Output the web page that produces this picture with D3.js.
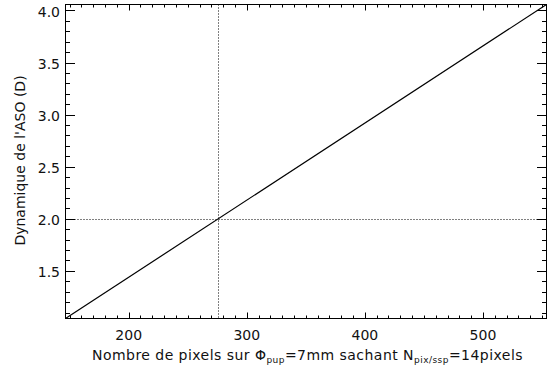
<!DOCTYPE html>
<html><head><meta charset="utf-8">
<script src="https://cdn.jsdelivr.net/npm/d3@7"></script>
<style>body{margin:0;background:#fff}svg{display:block}text{font-family:"DejaVu Sans",sans-serif;fill:#111}</style>
</head><body><svg id="c" width="547" height="371"></svg>
<script>
// data
const lineX = [146.5, 553.8];
const lineY = [1.043, 4.057];
const refX = [276];
const refY = [2.0];
const xTicks = [200, 300, 400, 500];
const yTicks = [1.5, 2.0, 2.5, 3.0, 3.5, 4.0];
const xDomain = [146.5, 553.8];
const yDomain = [1.043, 4.057];

const svg = d3.select("#c");
const L = 65.5, R = 546.5, T = 4.5, B = 318.5;
const x = d3.scaleLinear().domain(xDomain).range([L, R]);
const y = d3.scaleLinear().domain(yDomain).range([B, T]);

const g = svg.append("g");
g.append("rect").attr("x", L).attr("y", T).attr("width", R - L).attr("height", B - T)
  .attr("fill", "none").attr("stroke", "#000").attr("stroke-width", 1);

const xMinor = d3.range(150, 554, 10);
const yMinor = d3.range(11, 41, 1).map(v => v / 10);
const xMaj = 6, xMin = 3, yMaj = 9.5, yMin = 4.5;
xMinor.forEach(v => {
  const isMaj = xTicks.includes(v);
  const len = isMaj ? xMaj : xMin;
  const px = Math.round(x(v)) + 0.5;
  g.append("line").attr("x1", px).attr("x2", px).attr("y1", B).attr("y2", B - len).attr("stroke", "#000");
  g.append("line").attr("x1", px).attr("x2", px).attr("y1", T).attr("y2", T + len).attr("stroke", "#000");
});
yMinor.forEach(v => {
  const isMaj = yTicks.some(t => Math.abs(t - v) < 1e-6);
  const len = isMaj ? yMaj : yMin;
  const py = Math.round(y(v)) + 0.5;
  g.append("line").attr("y1", py).attr("y2", py).attr("x1", L).attr("x2", L + len).attr("stroke", "#000");
  g.append("line").attr("y1", py).attr("y2", py).attr("x1", R).attr("x2", R - len).attr("stroke", "#000");
});

xTicks.forEach(v => {
  g.append("text").attr("x", x(v)).attr("y", 340).attr("text-anchor", "middle")
    .attr("font-size", 14).text(v);
});
yTicks.forEach(v => {
  g.append("text").attr("x", 60).attr("y", y(v) + 6.5).attr("text-anchor", "end")
    .attr("font-size", 14).text(d3.format(".1f")(v));
});

refX.forEach(v => {
  g.append("line").attr("x1", Math.round(x(v)) + 0.5).attr("x2", Math.round(x(v)) + 0.5)
    .attr("y1", T).attr("y2", B).attr("stroke", "#000").attr("stroke-dasharray", "1,2");
});
refY.forEach(v => {
  g.append("line").attr("y1", Math.round(y(v)) + 0.5).attr("y2", Math.round(y(v)) + 0.5)
    .attr("x1", L).attr("x2", R).attr("stroke", "#000").attr("stroke-dasharray", "1,2");
});

const pts = lineX.map((d, i) => [x(d), y(lineY[i])]);
g.append("path").attr("d", d3.line()(pts)).attr("fill", "none").attr("stroke", "#000").attr("stroke-width", 1.2);

const xt = g.append("text").attr("x", 92).attr("y", 360).attr("text-anchor", "start").attr("font-size", 14);
xt.append("tspan").text("Nombre de pixels sur Φ");
xt.append("tspan").attr("font-size", 9).attr("dy", 3).text("pup");
xt.append("tspan").attr("dy", -3).text("=7mm sachant N");
xt.append("tspan").attr("font-size", 9).attr("dy", 3).text("pix/ssp");
xt.append("tspan").attr("dy", -3).text("=14pixels");
// stretch spacing to the reference width
const w0 = xt.node().getBBox().width;
const nChars = xt.text().length;
xt.attr("letter-spacing", Math.max(0, (431 - w0) / nChars));

g.append("text").attr("transform", `translate(25,${(72 + 249) / 2}) rotate(-90)`)
  .attr("text-anchor", "middle").attr("font-size", 14).text("Dynamique de l'ASO (D)");
</script></body></html>
